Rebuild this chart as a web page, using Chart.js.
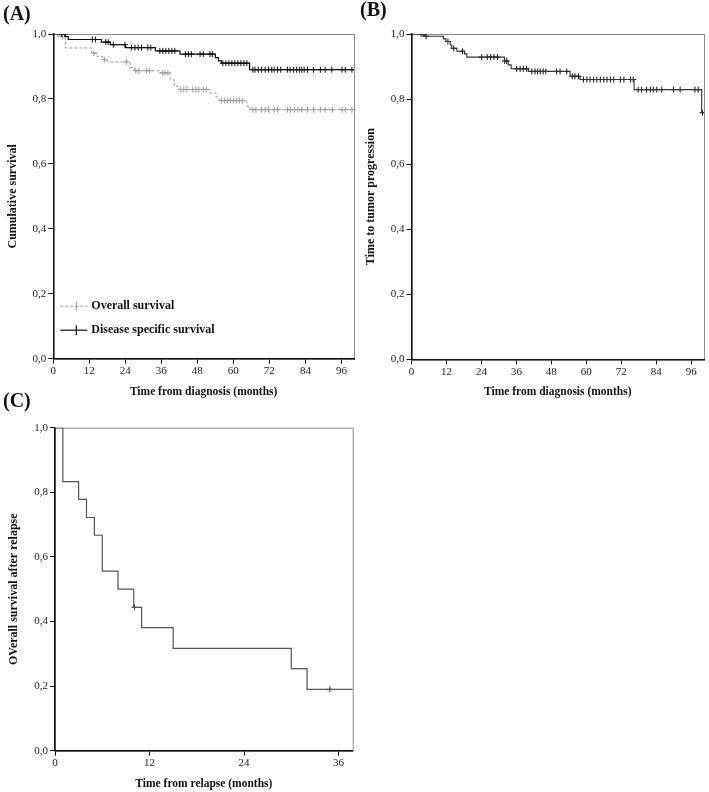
<!DOCTYPE html>
<html>
<head>
<meta charset="utf-8">
<script src="https://cdn.jsdelivr.net/npm/chart.js@4.4.1/dist/chart.umd.min.js"></script>
<style>
  body { margin: 0; background: #fff; width: 709px; height: 792px; position: relative; overflow: hidden; }
  canvas { position: absolute; }
  .tag { position: absolute; font: bold 20px "Liberation Serif", "Times New Roman", serif; line-height: 20px; color: #111; }
</style>
</head>
<body>
<canvas id="chartA" width="360" height="400" style="left:0;top:0"></canvas>
<canvas id="chartB" width="349" height="400" style="left:360px;top:0"></canvas>
<canvas id="chartC" width="360" height="392" style="left:0;top:400px"></canvas>
<div class="tag" style="left:3px;top:3px">(A)</div>
<div class="tag" style="left:360px;top:-1px">(B)</div>
<div class="tag" style="left:3px;top:390px">(C)</div>
<script>
const serif = '"Liberation Serif", "Times New Roman", serif';

// (A) overall survival - step times (months) and survival after each step
const osTimes  = [0, 1.5, 4, 12.8, 14.5, 16.5, 18, 25.6, 27, 35.6, 38.9, 40.3, 41.6, 52.2, 54.2, 55.2, 64.5, 65.5, 100.2];
const osValues = [1, 0.992, 0.957, 0.941, 0.931, 0.921, 0.914, 0.897, 0.887, 0.880, 0.859, 0.839, 0.829, 0.818, 0.806, 0.795, 0.777, 0.767, 0.767];
const osCensored = [3, 13.5, 17, 24.4, 27.5, 28.5, 31, 32, 36.3, 37.2, 38.2, 42.5, 43.5, 44.5, 46.5, 47.5, 48.5, 50, 51,
  56, 57, 58, 59, 60, 61, 62, 63, 66.5, 67.5, 69.4, 70.6, 71.7, 73.6, 74.7, 78, 79, 80.3, 81.5, 82.8, 84.7, 86.7, 89, 90.6, 93, 96.2, 97.3, 99.5];

// (A) disease specific survival
const dssTimes  = [0, 4, 5, 16, 19, 24, 34, 42.2, 54, 55, 56, 65.4, 100.2];
const dssValues = [1, 0.992, 0.983, 0.975, 0.967, 0.958, 0.948, 0.938, 0.927, 0.917, 0.910, 0.890, 0.890];
const dssCensored = [2.8, 3.8, 13, 14, 17.5, 18.3, 20, 23.9, 26, 27.2, 28.3, 29.4, 31.5, 32.5, 35.5, 36.5, 37.5, 38.5, 39.5, 40.5,
  44, 45, 46, 48.9, 50, 52.2, 53, 56.5, 57.5, 58.5, 59.5, 60.5, 61.5, 62.5, 63.5, 64.5,
  66.5, 67.2, 68.3, 69.4, 70.6, 71.7, 72.8, 73.6, 74.7, 75.8, 78, 78.9, 80, 81.1, 82, 82.8, 83.6, 84.7, 86.7, 89, 90.6, 92.8, 96.2, 97.3, 99.5];

// (B) time to tumor progression
const ttpTimes  = [0, 4.5, 11, 11.8, 13.3, 13.8, 15.6, 18.2, 19, 31.9, 33.2, 34.2, 40.1, 54.4, 57.8, 76.4, 99.6, 100.4];
const ttpValues = [1, 0.993, 0.985, 0.977, 0.966, 0.956, 0.947, 0.939, 0.929, 0.917, 0.905, 0.893, 0.885, 0.870, 0.860, 0.829, 0.758, 0.758];
const ttpCensored = [3.3, 4, 5, 12.5, 14.5, 17.5, 24.1, 26, 27.2, 28.3, 29.5, 32, 32.7, 36.1, 37.3, 38.4, 39.5, 41.3, 42.4, 43.3, 44.2, 45.2, 46.1,
  49.8, 51, 53.3, 55.2, 56.1, 57.3, 59, 60.2, 61.3, 62.5, 63.6, 64.8, 66, 67.1, 68.3, 69.4, 71.7, 72.9, 75.2, 76.1,
  77.8, 79, 80.7, 82, 83, 84.2, 85.9, 89.9, 92.2, 97.3, 98.4, 99.9];

// (C) overall survival after relapse
const relTimes  = [0, 1, 3, 4, 5, 6, 8, 10, 11, 15, 30, 32, 37.8];
const relValues = [1, 0.833, 0.778, 0.722, 0.667, 0.556, 0.5, 0.444, 0.381, 0.317, 0.254, 0.190, 0.190];
const relCensored = [10.1, 34.9];

const legendLabels = ['Overall survival', 'Disease specific survival'];

function stepAt(times, values, t) {
  let v = values[0];
  for (let i = 0; i < times.length; i++) {
    if (times[i] <= t) v = values[i];
  }
  return v;
}
function curve(times, values) {
  return times.map((t, i) => ({x: t, y: values[i]}));
}
function marks(times, values, cens) {
  return cens.map(t => ({x: t, y: stepAt(times, values, t)}));
}

// km curve: stay level, then drop at the next time
function lineSet(times, values, color, width, dash) {
  return {data: curve(times, values), showLine: true, stepped: 'before', borderColor: color,
          borderWidth: width, borderDash: dash || [], pointRadius: 0, fill: false};
}
function censorSet(times, values, cens, color) {
  return {data: marks(times, values, cens), showLine: false, pointStyle: 'cross', pointRadius: 3,
          pointBorderColor: color, pointBorderWidth: 1, pointBackgroundColor: color};
}

// grey frame round the plot area, drawn before the axes
const plotBox = {
  id: 'plotBox',
  beforeDraw(chart) {
    const {ctx, chartArea: a} = chart;
    ctx.save();
    ctx.strokeStyle = '#8c8c8c';
    ctx.lineWidth = 1;
    ctx.strokeRect(a.left + 0.5, a.top + 0.5, a.right - a.left, a.bottom - a.top);
    ctx.restore();
  }
};

// legend sitting in the lower left corner of panel A
const legendA = {
  id: 'legendA',
  afterDatasetsDraw(chart) {
    const {ctx, chartArea: a} = chart;
    const styles = [
      {color: '#9a9a9a', width: 1, dash: [3, 2]},
      {color: '#111', width: 1.2, dash: []}
    ];
    const x0 = a.left + 7, x1 = a.left + 34, xc = a.left + 23;
    legendLabels.forEach((label, i) => {
      const y = a.bottom - 52.5 + i * 24;
      const s = styles[i];
      ctx.save();
      ctx.strokeStyle = s.color;
      ctx.lineWidth = s.width;
      ctx.setLineDash(s.dash);
      ctx.beginPath(); ctx.moveTo(x0, y); ctx.lineTo(x1, y); ctx.stroke();
      ctx.setLineDash([]);
      ctx.beginPath(); ctx.moveTo(xc, y - 5); ctx.lineTo(xc, y + 5); ctx.stroke();
      ctx.fillStyle = '#111';
      ctx.font = 'bold 12px ' + serif;
      ctx.textBaseline = 'middle';
      ctx.fillText(label, x1 + 4, y);
      ctx.restore();
    });
  }
};

function scales(o) {
  return {
    x: {
      type: 'linear', min: 0, max: o.xMax,
      afterFit: s => { s.height = o.xHeight; },
      border: {color: '#111', width: 1.5},
      grid: {display: true, drawOnChartArea: false, color: '#111', tickLength: 5},
      ticks: {stepSize: 12, includeBounds: false, padding: 1, maxRotation: 0, color: '#222',
              font: {family: serif, size: 11}},
      title: {display: true, text: o.xTitle, color: '#111', padding: {top: 0, bottom: 1},
              font: {family: serif, size: 11.5, weight: 'bold'}}
    },
    y: {
      min: 0, max: 1,
      afterFit: s => { s.width = o.yWidth; },
      border: {color: '#111', width: 1.5},
      grid: {display: true, drawOnChartArea: false, color: '#111', tickLength: 5},
      ticks: {stepSize: 0.2, padding: 2, color: '#222', font: {family: serif, size: 11},
              callback: v => v.toFixed(1).replace('.', ',')},
      title: {display: true, text: o.yTitle, color: '#111', padding: {top: o.yTitlePad, bottom: 0},
              font: {family: serif, size: 12, weight: 'bold'}}
    }
  };
}

function baseOptions(o) {
  return {
    responsive: false,
    animation: false,
    layout: {padding: {top: o.top, right: o.right, left: 0, bottom: 0}},
    plugins: {legend: {display: false}, tooltip: {enabled: false}},
    scales: scales(o)
  };
}

new Chart(document.getElementById('chartA'), {
  type: 'scatter',
  data: {datasets: [
    lineSet(dssTimes, dssValues, '#111', 1.2),
    censorSet(dssTimes, dssValues, dssCensored, '#111'),
    lineSet(osTimes, osValues, '#9a9a9a', 1, [3, 2]),
    censorSet(osTimes, osValues, osCensored, '#9a9a9a')
  ]},
  options: baseOptions({top: 34, right: 6, xMax: 100.2, xHeight: 41.3, yWidth: 53.3,
    xTitle: 'Time from diagnosis (months)', yTitle: 'Cumulative survival', yTitlePad: 6}),
  plugins: [plotBox, legendA]
});

new Chart(document.getElementById('chartB'), {
  type: 'scatter',
  data: {datasets: [
    lineSet(ttpTimes, ttpValues, '#333', 1.1),
    censorSet(ttpTimes, ttpValues, ttpCensored, '#111')
  ]},
  options: baseOptions({top: 34, right: 5, xMax: 100.4, xHeight: 40.7, yWidth: 51.5,
    xTitle: 'Time from diagnosis (months)', yTitle: 'Time to tumor progression', yTitlePad: 4}),
  plugins: [plotBox]
});

new Chart(document.getElementById('chartC'), {
  type: 'scatter',
  data: {datasets: [
    lineSet(relTimes, relValues, '#555', 1.2),
    censorSet(relTimes, relValues, relCensored, '#333')
  ]},
  options: baseOptions({top: 27.7, right: 7.3, xMax: 37.8, xHeight: 41.3, yWidth: 55,
    xTitle: 'Time from relapse (months)', yTitle: 'OVerall survival after relapse', yTitlePad: 6.5}),
  plugins: [plotBox]
});
</script>
</body>
</html>
